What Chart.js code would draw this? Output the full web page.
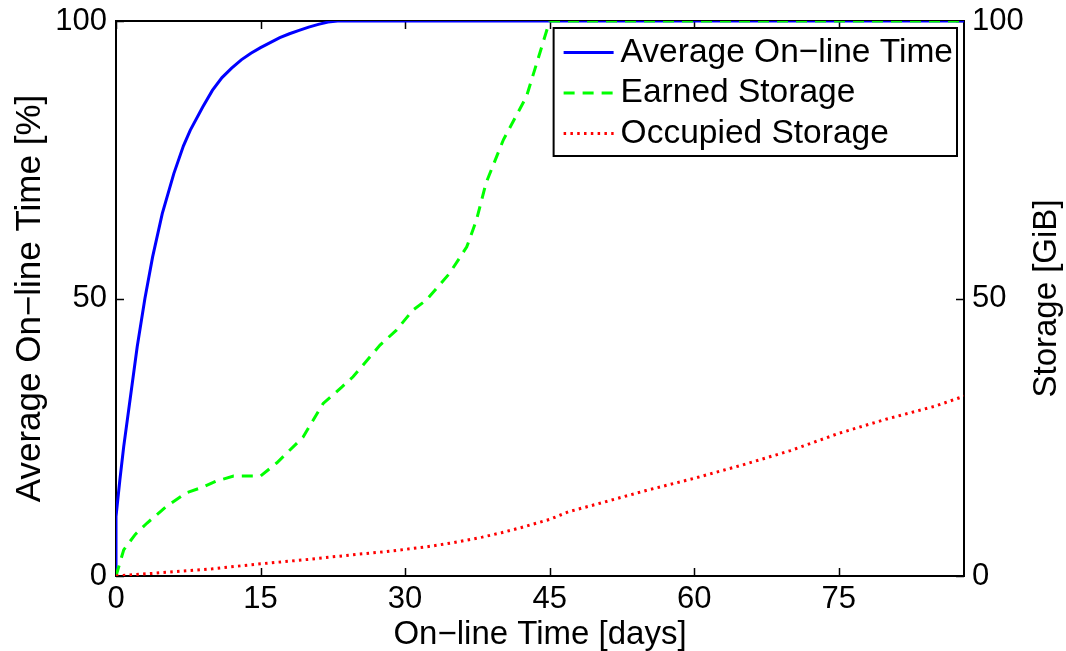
<!DOCTYPE html>
<html>
<head>
<meta charset="utf-8">
<script src="https://cdn.jsdelivr.net/npm/chart.js@4/dist/chart.umd.min.js"></script>
<style>
  html, body { margin: 0; padding: 0; background: #ffffff; }
  canvas { display: block; }
</style>
</head>
<body>
<canvas id="c" width="1066" height="651"></canvas>
<script>
// ---------------- data ----------------
const xTickValues = [0, 15, 30, 45, 60, 75];
const yTickValues = [0, 50, 100];
const y2TickValues = [0, 50, 100];

const xTitle = "On\u2212line Time [days]";
const yTitle = "Average On\u2212line Time [%]";
const y2Title = "Storage [GiB]";

const seriesLabels = ["Average On\u2212line Time", "Earned Storage", "Occupied Storage"];

const onlineDays = [0, 0, 0.4, 0.8, 1.5, 2.2, 3, 3.8, 4.8, 6, 7, 7.7, 9, 10, 11, 12, 13, 14, 15, 16, 17, 18, 19, 20, 21, 22, 23, 88];
const onlineValues = [0, 10.7, 17.3, 23.3, 32.3, 41.3, 50, 57.5, 65.3, 72.5, 77.5, 80.3, 84.5, 87.5, 89.8, 91.5, 93, 94.2, 95.2, 96.1, 97, 97.7, 98.3, 98.9, 99.4, 99.8, 100, 100];

const earnedDays = [0, 0.8, 2, 3.2, 5.2, 7.3, 9, 10.4, 12.2, 15, 16.7, 19.4, 21.5, 23.4, 24.6, 27.4, 29.1, 30.8, 32.2, 34.6, 36.4, 37.4, 38.4, 40.2, 42.6, 45, 88];
const earnedValues = [0, 4.7, 7.5, 9.5, 12.5, 15, 16, 17.1, 18, 18, 20.4, 25, 31.1, 34, 35.9, 41.6, 44.3, 47.9, 49.7, 54.5, 59.3, 64.1, 70.8, 78.6, 86.4, 100, 100];

const occupiedDays = [0, 4, 10, 15, 20, 25, 28, 32, 35, 38, 40, 42, 45, 47, 50, 55, 60, 65, 70, 75, 80, 85, 88];
const occupiedValues = [0, 0.5, 1.3, 2.2, 3, 3.9, 4.4, 5.2, 6, 7, 7.8, 8.7, 10.2, 11.6, 13, 15.4, 17.6, 20, 22.6, 25.7, 28.3, 30.6, 32.4];

// ---------------- helpers ----------------
const FONT = "'Liberation Sans', Arial, Helvetica, sans-serif";
function toPoints(xs, ys) { return xs.map((x, i) => ({ x: x, y: ys[i] })); }
function fixedTicks(values) {
  return function (scale) { scale.ticks = values.map(v => ({ value: v })); };
}
function fitVertical(width) {
  return function (scale) {
    scale.width = width;
    scale.paddingTop = 0;
    scale.paddingBottom = 0;
  };
}

// frame with inward ticks (drawn below the data, like the reference)
const framePlugin = {
  id: 'frame',
  beforeDatasetsDraw(chart) {
    const { ctx, chartArea: a, scales } = chart;
    ctx.save();
    ctx.strokeStyle = '#000';
    ctx.lineWidth = 2;
    ctx.strokeRect(a.left, a.top, a.right - a.left, a.bottom - a.top);
    ctx.lineWidth = 1.5;
    const len = 8;
    ctx.beginPath();
    xTickValues.forEach(v => {
      const px = Math.round(scales.x.getPixelForValue(v)) + 0.5;
      ctx.moveTo(px, a.bottom); ctx.lineTo(px, a.bottom - len);
      ctx.moveTo(px, a.top); ctx.lineTo(px, a.top + len);
    });
    yTickValues.forEach(v => {
      const py = Math.round(scales.y.getPixelForValue(v)) + 0.5;
      ctx.moveTo(a.left, py); ctx.lineTo(a.left + len, py);
    });
    y2TickValues.forEach(v => {
      const py = Math.round(scales.y2.getPixelForValue(v)) + 0.5;
      ctx.moveTo(a.right, py); ctx.lineTo(a.right - len, py);
    });
    ctx.stroke();
    ctx.restore();
  }
};

// legend box inside the plot (top right)
const boxLegendPlugin = {
  id: 'boxLegend',
  afterDatasetsDraw(chart) {
    const { ctx, chartArea: a } = chart;
    const ds = chart.data.datasets;
    ctx.save();
    ctx.font = "33.5px " + FONT;
    const maxW = Math.max(...ds.map(d => ctx.measureText(d.label).width));
    const sampleLen = 50, padL = 10, gap = 7, padR = 4, rowH = 40.5;
    const w = padL + sampleLen + gap + maxW + padR;
    const h = 128;
    const right = a.right - 7;
    const left = right - w;
    const top = a.top + 7;
    ctx.fillStyle = '#fff';
    ctx.fillRect(left, top, w, h);
    ctx.strokeStyle = '#000';
    ctx.lineWidth = 2;
    ctx.strokeRect(left, top, w, h);
    ds.forEach((d, i) => {
      const cy = top + 24.5 + i * rowH;
      ctx.save();
      ctx.strokeStyle = d.borderColor;
      ctx.lineWidth = d.borderWidth;
      ctx.setLineDash(d.borderDash || []);
      ctx.lineCap = 'butt';
      ctx.beginPath();
      ctx.moveTo(left + padL, cy);
      ctx.lineTo(left + padL + sampleLen, cy);
      ctx.stroke();
      ctx.restore();
      ctx.fillStyle = '#000';
      ctx.textAlign = 'left';
      ctx.textBaseline = 'middle';
      ctx.fillText(d.label, left + padL + sampleLen + gap, cy);
    });
    ctx.restore();
  }
};

// right axis title, reading bottom-to-top like the reference
const rightTitlePlugin = {
  id: 'rightTitle',
  afterDraw(chart) {
    const { ctx, chartArea: a, scales } = chart;
    ctx.save();
    ctx.font = "33px " + FONT;
    ctx.fillStyle = '#000';
    ctx.textAlign = 'center';
    ctx.textBaseline = 'middle';
    ctx.translate(scales.y2.right - 19.5, (a.top + a.bottom) / 2);
    ctx.rotate(-Math.PI / 2);
    ctx.fillText(y2Title, 0, 0);
    ctx.restore();
  }
};

const tickFont = { family: FONT, size: 31 };

new Chart(document.getElementById('c'), {
  type: 'line',
  data: {
    datasets: [
      {
        label: seriesLabels[0],
        data: toPoints(onlineDays, onlineValues),
        yAxisID: 'y',
        borderColor: '#0000ff',
        borderWidth: 3,
        pointRadius: 0,
        tension: 0,
        fill: false,
        order: 3
      },
      {
        label: seriesLabels[1],
        data: toPoints(earnedDays, earnedValues),
        yAxisID: 'y2',
        borderColor: '#00ff00',
        borderWidth: 3,
        borderDash: [11, 8],
        pointRadius: 0,
        tension: 0,
        fill: false,
        order: 2
      },
      {
        label: seriesLabels[2],
        data: toPoints(occupiedDays, occupiedValues),
        yAxisID: 'y2',
        borderColor: '#ff0000',
        borderWidth: 3,
        borderDash: [2.5, 4.3],
        borderCapStyle: 'butt',
        pointRadius: 0,
        tension: 0,
        fill: false,
        order: 1
      }
    ]
  },
  options: {
    responsive: false,
    animation: false,
    devicePixelRatio: 1,
    layout: { padding: { top: 21, left: 0, right: 0, bottom: 0 } },
    plugins: {
      legend: { display: false },
      tooltip: { enabled: false }
    },
    scales: {
      x: {
        type: 'linear',
        position: 'bottom',
        min: 0,
        max: 88,
        afterBuildTicks: fixedTicks(xTickValues),
        afterFit(scale) { scale.height = 75; scale.paddingLeft = 0; scale.paddingRight = 0; },
        grid: { display: false, drawTicks: false },
        border: { display: false },
        ticks: { font: tickFont, color: '#000', padding: 5, maxRotation: 0, autoSkip: false },
        title: {
          display: true,
          text: xTitle,
          color: '#000',
          font: { family: FONT, size: 33, lineHeight: 1 },
          padding: { top: 0, bottom: 0 }
        }
      },
      y: {
        type: 'linear',
        position: 'left',
        min: 0,
        max: 100,
        afterBuildTicks: fixedTicks(yTickValues),
        afterFit: fitVertical(116),
        grid: { display: false, drawTicks: false },
        border: { display: false },
        ticks: { font: tickFont, color: '#000', padding: 9 },
        title: {
          display: true,
          text: yTitle,
          color: '#000',
          font: { family: FONT, size: 35 },
          padding: { top: 9, bottom: 0 }
        }
      },
      y2: {
        type: 'linear',
        position: 'right',
        min: 0,
        max: 100,
        afterBuildTicks: fixedTicks(y2TickValues),
        afterFit: fitVertical(102),
        grid: { display: false, drawTicks: false },
        border: { display: false },
        ticks: { font: tickFont, color: '#000', padding: 8 },
        title: { display: false }
      }
    }
  },
  plugins: [framePlugin, boxLegendPlugin, rightTitlePlugin]
});
</script>
</body>
</html>
